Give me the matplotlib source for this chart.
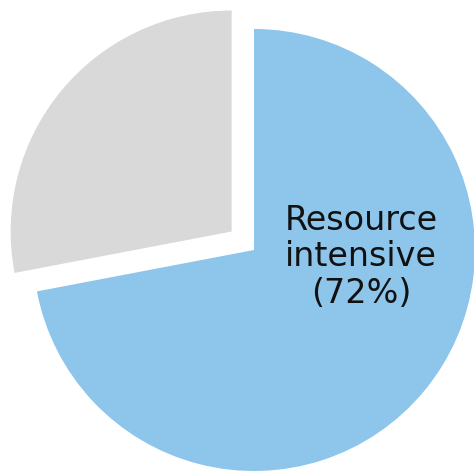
import matplotlib
matplotlib.use("Agg")
import matplotlib.pyplot as plt

# share of firms by category
labels = ["Resource intensive", "Other"]
shares = [72, 28]
colors = ["#8DC5EB", "#D9D9D9"]

W, H = 474, 472
fig = plt.figure(figsize=(W / 100, H / 100), dpi=100)
ax = fig.add_axes([0, 0, 1, 1])

# pixel coordinates, y pointing up
cx, cy, r = 254, H - 250, 221
ax.pie(shares, colors=colors, startangle=90, counterclock=False,
       explode=[0, 29], radius=r, center=(cx, cy),
       wedgeprops=dict(linewidth=0))
ax.set_xlim(0, W)
ax.set_ylim(0, H)
ax.set_aspect("equal")
ax.axis("off")

ax.text(361, H - 257, "Resource\nintensive\n(%d%%)" % shares[0],
        ha="center", va="center", fontsize=24, color="#111111",
        family="DejaVu Sans", linespacing=1.13)

fig.savefig("out.png", dpi=100)
